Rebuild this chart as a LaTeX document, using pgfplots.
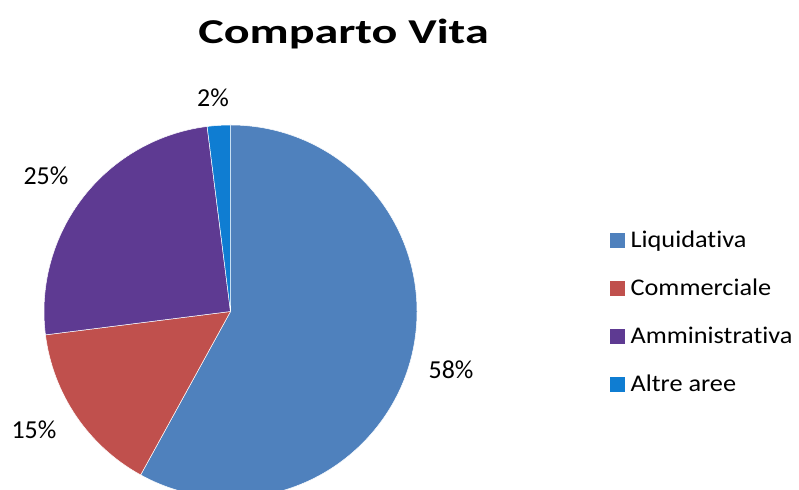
\documentclass[border=0pt]{standalone}
\usepackage{pgfplots}
\pgfplotsset{compat=1.18}
\usepackage{fontspec}
\setmainfont{Carlito}[Ligatures=NoCommon]
\newfontfamily\titlefont{Carlito}[FakeStretch=1.38, Ligatures=NoCommon]
\newfontfamily\legfont{Carlito}[FakeStretch=1.1, Ligatures=NoCommon]
\definecolor{cLiq}{HTML}{4F81BD}
\definecolor{cCom}{HTML}{C0504D}
\definecolor{cAmm}{HTML}{5E3A92}
\definecolor{cAlt}{HTML}{0F7DD2}
\begin{document}
\begin{tikzpicture}
% shares (percent)
\def\vA{58}\def\vB{15}\def\vC{25}\def\vD{2}
\pgfmathsetmacro\aO{90}
\pgfmathsetmacro\aA{\aO-3.6*\vA}
\pgfmathsetmacro\aB{\aA-3.6*\vB}
\pgfmathsetmacro\aC{\aB-3.6*\vC}
\pgfmathsetmacro\aD{\aC-3.6*\vD}
\def\R{186.5bp}
\begin{axis}[
  x=1bp, y=1bp, xmin=0, xmax=799, ymin=0, ymax=490,
  hide axis, clip=true,
  legend cell align=left,
  legend image code/.code={\fill[#1] (0bp,-7bp) rectangle (14bp,7bp);},
  legend style={draw=none, fill=none, font=\legfont\fontsize{24}{28}\selectfont,
    at={(axis cs:610,260)}, anchor=north west, row sep=28bp, column sep=5bp,
    inner sep=0pt, nodes={inner sep=1bp}},
]
\path (axis cs:0,0) rectangle (axis cs:799,490);
\fill[cLiq, draw=white, line width=0.5bp] (axis cs:230.5,178.5) -- ++(\aO:\R) arc[start angle=\aO, end angle=\aA, radius=\R] -- cycle;
\fill[cCom, draw=white, line width=0.5bp] (axis cs:230.5,178.5) -- ++(\aA:\R) arc[start angle=\aA, end angle=\aB, radius=\R] -- cycle;
\fill[cAmm, draw=white, line width=0.5bp] (axis cs:230.5,178.5) -- ++(\aB:\R) arc[start angle=\aB, end angle=\aC, radius=\R] -- cycle;
\fill[cAlt, draw=white, line width=0.5bp] (axis cs:230.5,178.5) -- ++(\aC:\R) arc[start angle=\aC, end angle=\aD, radius=\R] -- cycle;
\addlegendimage{cLiq}\addlegendentry{Liquidativa}
\addlegendimage{cCom}\addlegendentry{Commerciale}
\addlegendimage{cAmm}\addlegendentry{Amministrativa}
\addlegendimage{cAlt}\addlegendentry{Altre aree}
\node[font=\fontsize{26}{30}\selectfont] at (axis cs:451,120) {\vA\%};
\node[font=\fontsize{26}{30}\selectfont] at (axis cs:34,60) {\vB\%};
\node[font=\fontsize{26}{30}\selectfont] at (axis cs:46,314) {\vC\%};
\node[font=\fontsize{26}{30}\selectfont] at (axis cs:213,392) {\vD\%};
\node[font=\titlefont\fontsize{35}{40}\selectfont\bfseries] at (axis cs:343.5,456) {Comparto Vita};
\end{axis}
\end{tikzpicture}
\end{document}
